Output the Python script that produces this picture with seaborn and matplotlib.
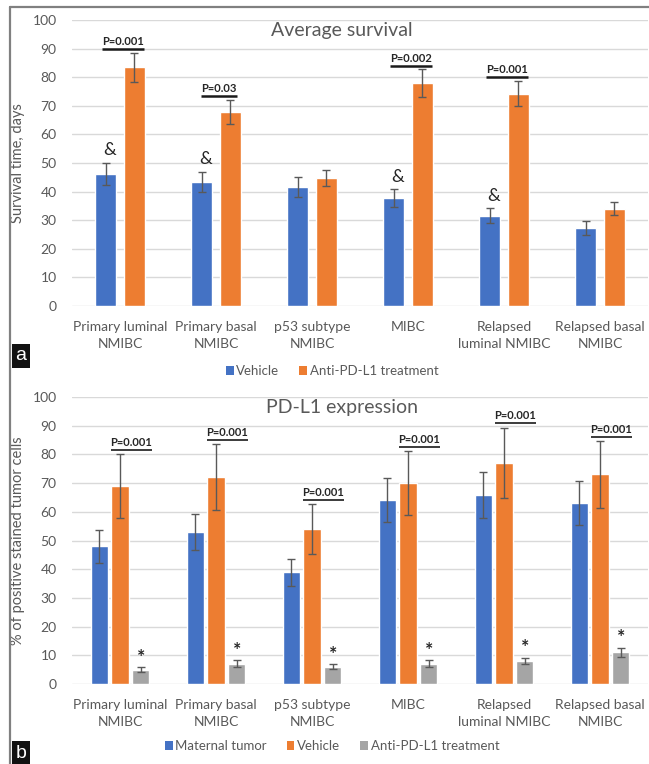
import numpy as np
import pandas as pd
import matplotlib
matplotlib.use("Agg")
import matplotlib.pyplot as plt
import seaborn as sns
from matplotlib.patches import Patch

# ---- data -------------------------------------------------------------
categories = ["Primary luminal\nNMIBC", "Primary basal\nNMIBC", "p53 subtype\nNMIBC",
              "MIBC", "Relapsed\nluminal NMIBC", "Relapsed basal\nNMIBC"]

# Panel a: average survival (days)
surv_vehicle = [46.2, 43.4, 41.5, 37.7, 31.5, 27.2]
surv_vehicle_err = [3.8, 3.6, 3.5, 3.1, 2.6, 2.4]
surv_anti = [83.4, 67.8, 44.8, 77.9, 74.3, 34.0]
surv_anti_err = [5.1, 4.2, 2.8, 4.8, 4.5, 2.2]
surv_pvalues = ["P=0.001", "P=0.03", None, "P=0.002", "P=0.001", None]
surv_amp = [True, True, False, True, True, False]

# Panel b: PD-L1 expression (% positive stained tumor cells)
pd_maternal = [48, 53, 39, 64, 66, 63]
pd_maternal_err = [5.7, 6.4, 4.7, 7.7, 8.0, 7.7]
pd_vehicle = [69, 72, 54, 70, 77, 73]
pd_vehicle_err = [11.0, 11.5, 8.6, 11.2, 12.3, 11.7]
pd_anti = [5, 7, 6, 7, 8, 11]
pd_anti_err = [0.8, 1.2, 0.9, 1.2, 1.2, 1.7]
pd_pvalues = ["P=0.001"] * 6

BLUE, ORANGE, GRAY = "#4472C4", "#ED7D31", "#A5A5A5"
TXT = "#595959"

sns.set_theme(style="white")
plt.rcParams["font.family"] = ["Lato", "DejaVu Sans"]

fig = plt.figure(figsize=(6.49, 7.64), dpi=100)
W, H = 649, 764


def fig_rect(x0, x1, ytop, ybot):
    return [x0 / W, 1 - ybot / H, (x1 - x0) / W, (ybot - ytop) / H]


ax_a = fig.add_axes(fig_rect(72, 648, 20, 306))
ax_b = fig.add_axes(fig_rect(72, 648, 397, 684))


def style_axis(ax, title, ylabel):
    ax.set_ylim(0, 100)
    ax.set_xlim(-0.5, len(categories) - 0.5)
    ax.set_yticks(range(0, 101, 10))
    ax.yaxis.grid(True, color="#D9D9D9", linewidth=1.0)
    ax.set_axisbelow(True)
    for s in ax.spines.values():
        s.set_visible(False)
    ax.tick_params(axis="both", length=0, labelsize=10, labelcolor=TXT)
    ax.tick_params(axis="x", pad=11)
    ax.tick_params(axis="y", pad=11)
    ax.set_xlabel("")
    ax.set_ylabel(ylabel, fontsize=10.5, color=TXT)
    ax.yaxis.set_label_coords(-47 / 576, 0.5)
    ax.text((342 - 72) / 576, 0.962, title, transform=ax.transAxes, ha="center",
            va="center", fontsize=14, color=TXT)
    for lbl in ax.get_xticklabels():
        lbl.set_linespacing(1.5)


def draw_errors(ax, means_list, errs_list):
    tops = []
    for cont, means, errs in zip(ax.containers, means_list, errs_list):
        xs = [p.get_x() + p.get_width() / 2 for p in cont.patches]
        ax.errorbar(xs, means, yerr=errs, fmt="none", ecolor="#595959",
                    elinewidth=1.0, capsize=3, capthick=1.0, zorder=5)
        tops.append((xs, [m + e for m, e in zip(means, errs)]))
    return tops


def pvalue_label(ax, x, y, text, lw):
    t = ax.text(x, y + 0.7, text, ha="center", va="bottom", fontsize=8,
                fontweight="bold", color="#262626", zorder=6)
    fig.canvas.draw()
    bb = t.get_window_extent().transformed(ax.transData.inverted())
    ax.plot([bb.x0, bb.x1], [y, y], color="#1A1A1A", lw=lw,
            solid_capstyle="butt", zorder=6)


# ---- panel a ----------------------------------------------------------
df_a = pd.DataFrame({
    "category": categories * 2,
    "group": ["Vehicle"] * 6 + ["Anti-PD-L1 treatment"] * 6,
    "value": surv_vehicle + surv_anti,
})
sns.barplot(data=df_a, x="category", y="value", hue="group", ax=ax_a,
            palette=[BLUE, ORANGE], width=0.594, gap=0.26, errorbar=None,
            saturation=1, legend=False)
style_axis(ax_a, "Average survival", "Survival time, days")
tops_a = draw_errors(ax_a, [surv_vehicle, surv_anti], [surv_vehicle_err, surv_anti_err])

for i, p in enumerate(surv_pvalues):
    if p:
        pvalue_label(ax_a, i + 0.03, tops_a[1][1][i] + 1.3, p, 1.8)
for i, flag in enumerate(surv_amp):
    if flag:
        ax_a.text(tops_a[0][0][i] + 0.04, tops_a[0][1][i] + 1.6, "&", ha="center",
                  va="bottom", fontsize=13, color="#262626")

# ---- panel b ----------------------------------------------------------
df_b = pd.DataFrame({
    "category": categories * 3,
    "group": ["Maternal tumor"] * 6 + ["Vehicle"] * 6 + ["Anti-PD-L1 treatment"] * 6,
    "value": pd_maternal + pd_vehicle + pd_anti,
})
sns.barplot(data=df_b, x="category", y="value", hue="group", ax=ax_b,
            palette=[BLUE, ORANGE, GRAY], width=0.656, gap=0.19, errorbar=None,
            saturation=1, legend=False)
style_axis(ax_b, "PD-L1 expression", "% of positive stained tumor cells")
tops_b = draw_errors(ax_b, [pd_maternal, pd_vehicle, pd_anti],
                     [pd_maternal_err, pd_vehicle_err, pd_anti_err])

for i, p in enumerate(pd_pvalues):
    pvalue_label(ax_b, i + 0.12, tops_b[1][1][i] + 1.5, p, 1.2)
for x, top in zip(*tops_b[2]):
    ax_b.text(x, top + 0.4, "*", ha="center", va="bottom", fontsize=14,
              fontweight="bold", color="#262626")

# ---- legends ----------------------------------------------------------
def legend(items, y):
    handles = [Patch(facecolor=c, edgecolor="none", label=l) for l, c in items]
    fig.legend(handles=handles, loc="center", bbox_to_anchor=(332 / W, 1 - y / H),
               ncol=len(items), frameon=False, fontsize=9.5, labelcolor=TXT,
               handlelength=0.6, handleheight=0.6, handletextpad=0.2,
               columnspacing=1.5)


legend([("Vehicle", BLUE), ("Anti-PD-L1 treatment", ORANGE)], 371)
legend([("Maternal tumor", BLUE), ("Vehicle", ORANGE),
        ("Anti-PD-L1 treatment", GRAY)], 746)

# ---- frame and panel letters -----------------------------------------
frame_col = "#808080"
fig.add_artist(plt.Line2D([10 / W, 1], [1 - 7 / H, 1 - 7 / H], color=frame_col,
                          lw=1.6, transform=fig.transFigure))
fig.add_artist(plt.Line2D([10 / W, 10 / W], [1 - 7 / H, 0], color=frame_col,
                          lw=1.6, transform=fig.transFigure))
for letter, ytop in [("a", 345), ("b", 742)]:
    fig.text(21 / W, 1 - (ytop + 11) / H, letter, ha="center", va="center",
             fontsize=14, color="white", family="Liberation Sans",
             bbox=dict(boxstyle="square,pad=0.18", facecolor="#111111",
                       edgecolor="none"))

fig.savefig("out.png", dpi=100)
